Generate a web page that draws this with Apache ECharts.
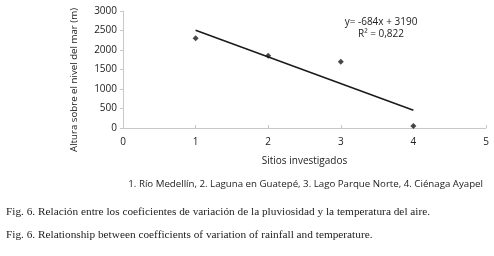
<!DOCTYPE html>
<html>
<head>
<meta charset="utf-8">
<script src="https://cdn.jsdelivr.net/npm/echarts@6/dist/echarts.min.js"></script>
<style>
  html, body { margin: 0; padding: 0; background: #fff; }
  #chart { width: 494px; height: 256px; }
</style>
</head>
<body>
<div id="chart"></div>
<script>
// sitios (x) y altura sobre el nivel del mar (y)
var sitios = [1, 2, 3, 4];
var altura = [2300, 1850, 1700, 50];
// línea de tendencia y = -684x + 3190, extremos leídos
var trendX = [1, 4];
var trendY = [2506, 454];
var xTicks = [0, 1, 2, 3, 4, 5];
var yTicks = [0, 500, 1000, 1500, 2000, 2500, 3000];

var chart = echarts.init(document.getElementById('chart'));
var sans = 'Open Sans';

var option = {
    animation: false,
    grid: { left: 123, right: 8, top: 11, bottom: 128, containLabel: false },
    xAxis: {
        type: 'value',
        min: xTicks[0], max: xTicks[xTicks.length - 1], interval: 1,
        name: 'Sitios investigados',
        nameLocation: 'middle', nameGap: 28,
        nameTextStyle: { color: '#222', fontSize: 10, fontFamily: sans },
        axisLine: { lineStyle: { color: '#c8c8c8', width: 1 } },
        axisTick: { show: true, inside: true, length: 3, lineStyle: { color: '#c8c8c8' } },
        axisLabel: { color: '#222', fontSize: 10, fontFamily: sans, margin: 9 },
        splitLine: { show: false }
    },
    yAxis: {
        type: 'value',
        min: yTicks[0], max: yTicks[yTicks.length - 1], interval: 500,
        axisLine: { show: true, lineStyle: { color: '#c8c8c8', width: 1 } },
        axisTick: { show: true, length: 3, lineStyle: { color: '#c8c8c8' } },
        axisLabel: { color: '#222', fontSize: 10, fontFamily: sans, margin: 6,
            formatter: function (v) { return String(v); } },
        splitLine: { show: false }
    },
    graphic: [
        { type: 'text', x: 74, y: 80, rotation: Math.PI / 2, style: { text: 'Altura sobre el nivel del mar (m)', align: 'center', verticalAlign: 'middle', fill: '#222', font: '9.7px "Open Sans"' } },
        { type: 'text', x: 381, y: 16, style: { text: 'y= -684x + 3190\nR² = 0,822', align: 'center', fill: '#222', font: '10px "Open Sans"', lineHeight: 12 } },
        { type: 'text', x: 483, y: 179, style: { text: '1. Río Medellín, 2. Laguna en Guatepé, 3. Lago Parque Norte, 4. Ciénaga Ayapel', align: 'right', fill: '#222', font: '9.7px "Open Sans"' } },
        { type: 'text', x: 6, y: 207, style: { text: 'Fig. 6. Relación entre los coeficientes de variación de la pluviosidad y la temperatura del aire.', fill: '#222', font: '11.3px "Liberation Serif"' } },
        { type: 'text', x: 6, y: 230, style: { text: 'Fig. 6. Relationship between coefficients of variation of rainfall and temperature.', fill: '#222', font: '11.3px "Liberation Serif"' } }
    ],
    series: [
        {
            type: 'line',
            data: trendX.map(function (x, i) { return [x, trendY[i]]; }),
            showSymbol: false,
            lineStyle: { color: '#1a1a1a', width: 1.5 },
            silent: true
        },
        {
            type: 'scatter',
            data: sitios.map(function (x, i) { return [x, altura[i]]; }),
            symbol: 'diamond',
            symbolSize: 6,
            itemStyle: { color: '#1a1a1a' }
        }
    ]
};
chart.setOption(option);
</script>
</body>
</html>
